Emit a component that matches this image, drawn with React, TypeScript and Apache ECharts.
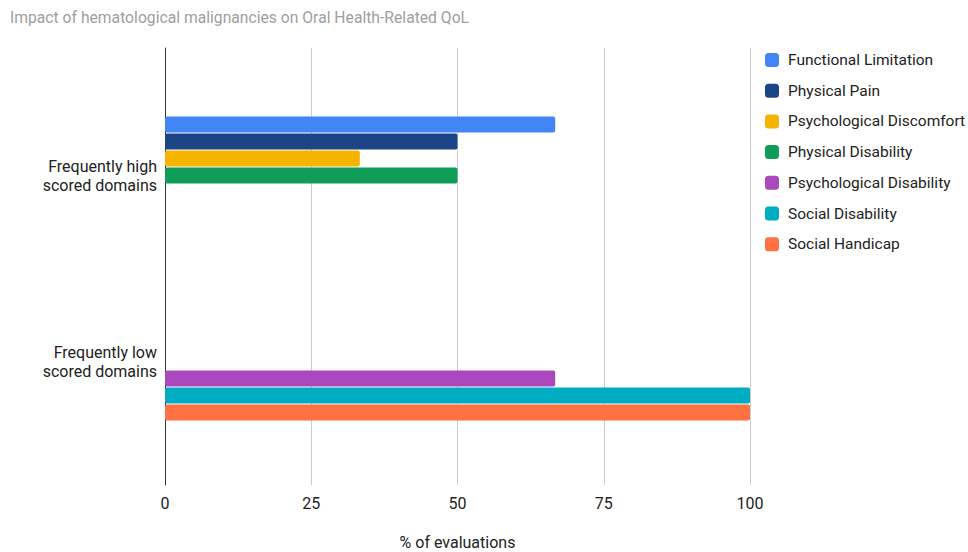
import React, { useEffect, useRef } from "react";
import * as echarts from "echarts";

const titleText = "Impact of hematological malignancies on Oral Health-Related QoL";
const categories = ["Frequently high\nscored domains", "Frequently low\nscored domains"];
const seriesNames = [
  "Functional Limitation",
  "Physical Pain",
  "Psychological Discomfort",
  "Physical Disability",
  "Psychological Disability",
  "Social Disability",
  "Social Handicap",
];
const functionalLimitation = [66.7, 0];
const physicalPain = [50, 0];
const psychologicalDiscomfort = [33.3, 0];
const physicalDisability = [50, 0];
const psychologicalDisability = [0, 66.7];
const socialDisability = [0, 100];
const socialHandicap = [0, 100];
const seriesValues = [
  functionalLimitation,
  physicalPain,
  psychologicalDiscomfort,
  physicalDisability,
  psychologicalDisability,
  socialDisability,
  socialHandicap,
];
const colors = ["#4285F4", "#1C4587", "#F4B400", "#0F9D58", "#AB47BC", "#00ACC1", "#FF7043"];
const xTicks = [0, 25, 50, 75, 100];
const xAxisName = "% of evaluations";

export default function App() {
  const ref = useRef<HTMLDivElement>(null);
  useEffect(() => {
    if (!ref.current) return;
    const chart = echarts.init(ref.current, undefined, { renderer: "svg" });
    const font = "Roboto";
    chart.setOption({
      animation: false,
      color: colors,
      textStyle: { fontFamily: font },
      title: {
        text: titleText,
        left: 5,
        top: 4,
        textStyle: { fontFamily: font, fontSize: 15.7, fontWeight: "normal", color: "#9e9e9e" },
      },
      legend: {
        orient: "vertical",
        left: 765,
        top: 52,
        padding: 0,
        itemWidth: 14,
        itemHeight: 14,
        itemGap: 14.7,
        icon: "roundRect",
        textStyle: {
          fontFamily: font,
          fontSize: 15.5,
          lineHeight: 14,
          color: "#222",
          padding: [0, 0, 0, 4],
        },
        data: seriesNames,
      },
      grid: [
        { left: 165, right: 218, top: 48, bottom: 67, outerBoundsMode: "none", containLabel: false },
        { left: 165, right: 218, top: 82.5, bottom: 97.5, outerBoundsMode: "none", containLabel: false },
      ],
      xAxis: [
        {
          gridIndex: 0,
          type: "value",
          min: xTicks[0],
          max: xTicks[xTicks.length - 1],
          interval: 25,
          axisLine: { show: false },
          axisTick: { show: false },
          splitLine: { show: true, lineStyle: { color: "#cccccc", width: 1 } },
          axisLabel: { fontFamily: font, fontSize: 16, color: "#222", margin: 10 },
          name: xAxisName,
          nameLocation: "middle",
          nameGap: 51,
          nameTextStyle: { fontFamily: font, fontSize: 16, lineHeight: 12, color: "#222" },
        },
        {
          gridIndex: 1,
          type: "value",
          min: xTicks[0],
          max: xTicks[xTicks.length - 1],
          interval: 25,
          show: false,
        },
      ],
      yAxis: [
        {
          gridIndex: 0,
          type: "value",
          min: 0,
          max: 1,
          axisLine: { show: true, onZero: false, lineStyle: { color: "#333", width: 1 } },
          axisTick: { show: false },
          axisLabel: { show: false },
          splitLine: { show: false },
        },
        {
          gridIndex: 1,
          type: "category",
          inverse: true,
          data: categories,
          axisLine: { show: false },
          axisTick: { show: false },
          splitLine: { show: false },
          axisLabel: {
            fontFamily: font,
            fontSize: 16,
            color: "#222",
            margin: 8,
            lineHeight: 19,
            align: "right",
          },
        },
      ],
      series: seriesNames.map((name, i) => ({
        name,
        type: "bar",
        xAxisIndex: 1,
        yAxisIndex: 1,
        data: seriesValues[i],
        barWidth: 16,
        barGap: "6.25%",
        itemStyle: { color: colors[i], borderRadius: 2 },
      })),
    });
    return () => chart.dispose();
  }, []);
  return <div ref={ref} style={{ width: 968, height: 552, position: "absolute", left: 0, top: 0 }} />;
}
